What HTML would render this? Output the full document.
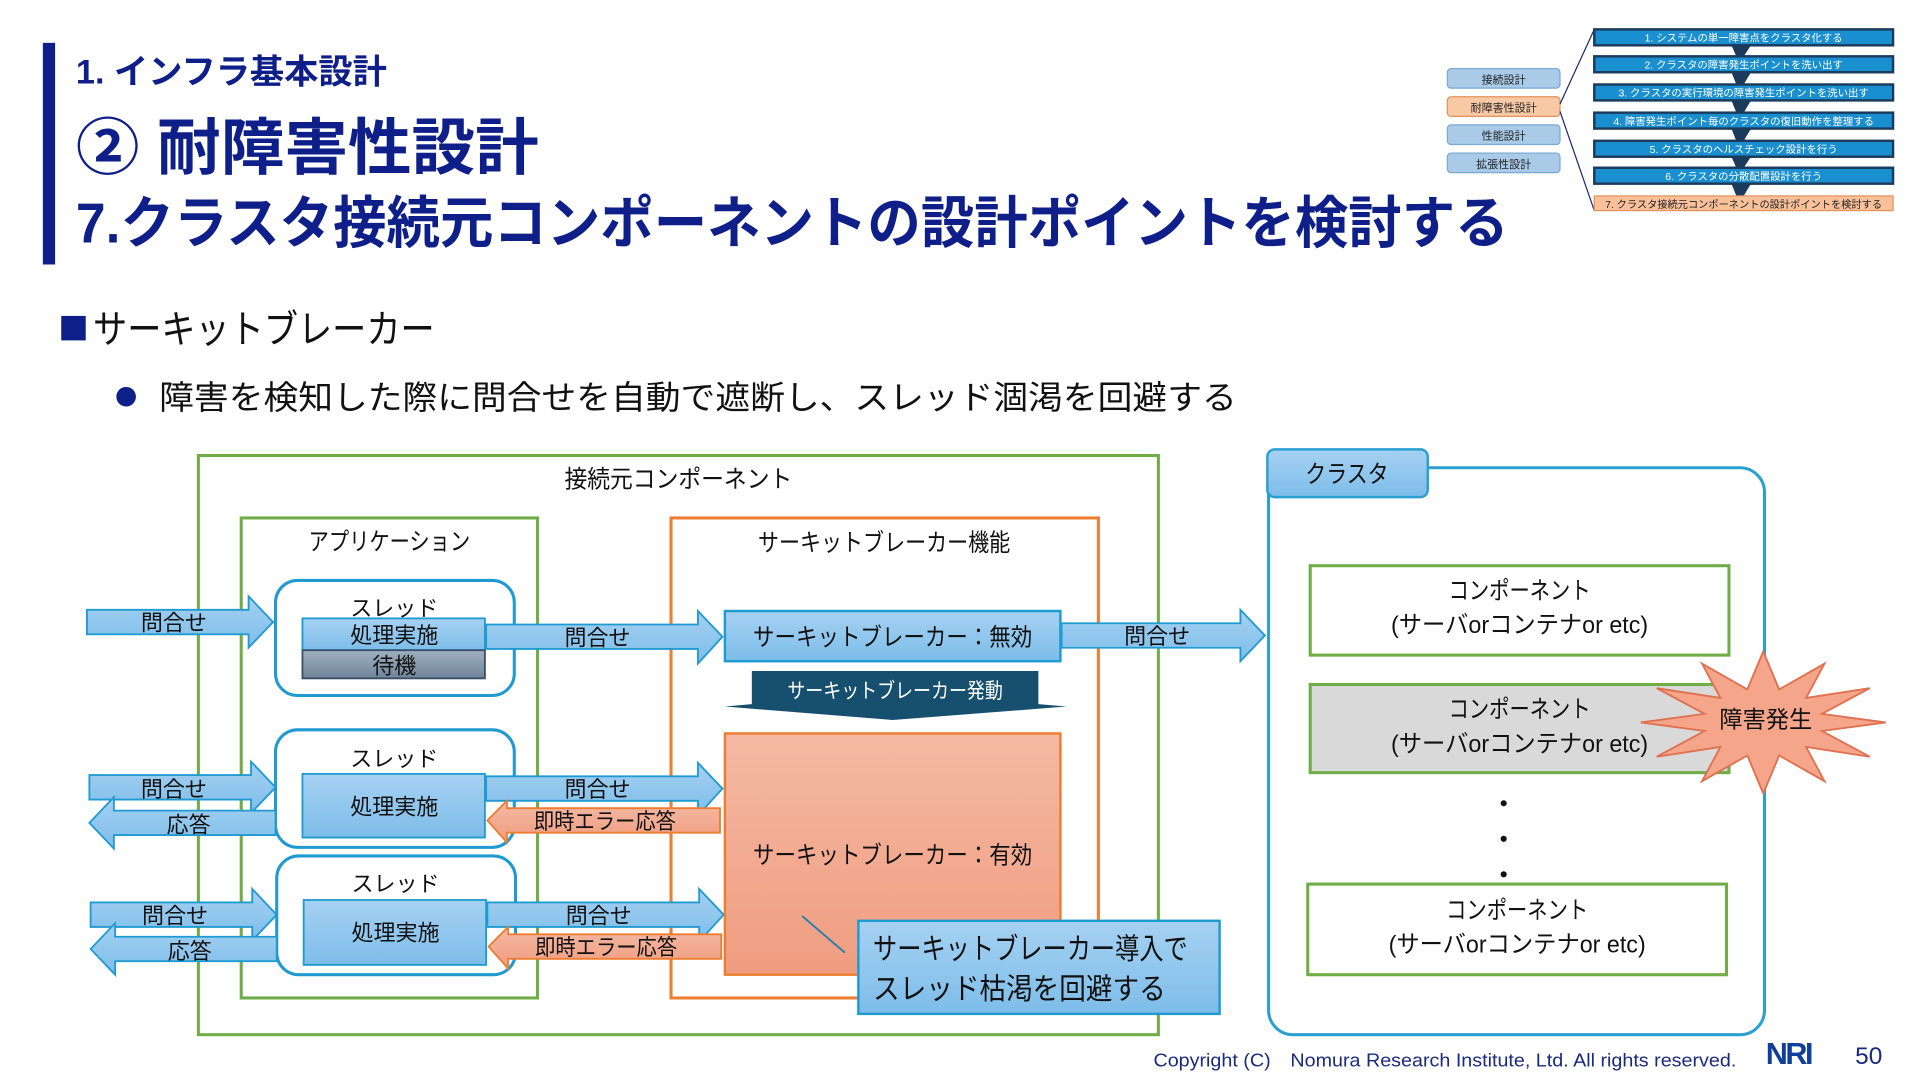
<!DOCTYPE html>
<html><head><meta charset="utf-8"><style>
html,body{margin:0;padding:0;background:#fff;}
svg{display:block;}
text{font-family:"Liberation Sans","Noto Sans CJK JP",sans-serif;}
</style></head><body>
<svg width="1920" height="1080" viewBox="0 0 1568 882" xmlns="http://www.w3.org/2000/svg">
<defs>
<linearGradient id="bl" x1="0" y1="0" x2="0" y2="1"><stop offset="0" stop-color="#a6d1f2"/><stop offset="1" stop-color="#7dbde9"/></linearGradient>
<linearGradient id="gr" x1="0" y1="0" x2="0" y2="1"><stop offset="0" stop-color="#9fb0c0"/><stop offset="1" stop-color="#70849a"/></linearGradient>
<linearGradient id="or" x1="0" y1="0" x2="0" y2="1"><stop offset="0" stop-color="#f4b9a3"/><stop offset="1" stop-color="#f09d80"/></linearGradient>
</defs>

<!-- header -->
<rect x="35" y="35" width="10" height="181" fill="#0f1f8a"/>
<text x="62" y="68" font-size="28" fill="#0f1f8a" font-weight="bold" textLength="254" lengthAdjust="spacingAndGlyphs">1. インフラ基本設計</text>
<text x="62" y="138" font-size="50" fill="#0f1f8a" font-weight="bold" textLength="378" lengthAdjust="spacingAndGlyphs">② 耐障害性設計</text>
<text x="62" y="198" font-size="46" fill="#0f1f8a" font-weight="bold" textLength="1170" lengthAdjust="spacingAndGlyphs">7.クラスタ接続元コンポーネントの設計ポイントを検討する</text>

<!-- mini nav -->
<g font-size="9" text-anchor="middle" fill="#222">
<rect x="1182" y="56" width="92" height="16" rx="3" fill="#a9cbe8" stroke="#7aa8d0"/><text x="1228" y="68">接続設計</text>
<rect x="1182" y="79" width="92" height="16" rx="3" fill="#f9c9a6" stroke="#e0935a"/><text x="1228" y="91">耐障害性設計</text>
<rect x="1182" y="102" width="92" height="16" rx="3" fill="#a9cbe8" stroke="#7aa8d0"/><text x="1228" y="114">性能設計</text>
<rect x="1182" y="125" width="92" height="16" rx="3" fill="#a9cbe8" stroke="#7aa8d0"/><text x="1228" y="137">拡張性設計</text>
</g>
<line x1="1274" y1="85" x2="1302" y2="24" stroke="#1a2a70" stroke-width="1"/>
<line x1="1274" y1="91" x2="1302" y2="172" stroke="#1a2a70" stroke-width="1"/>
<g font-size="8.5" text-anchor="middle" fill="#fff">
<g fill="#1b3a5c"><polygon points="1414,37 1430,37 1424,46 1418,46"/><polygon points="1414,59 1430,59 1424,69 1418,69"/><polygon points="1414,82 1430,82 1424,92 1418,92"/><polygon points="1414,105 1430,105 1424,115 1418,115"/><polygon points="1414,128 1430,128 1424,137 1418,137"/><polygon points="1414,150 1430,150 1424,160 1418,160"/></g>
<rect x="1302" y="24" width="244" height="13" fill="#1a8fcf" stroke="#1b3a5c" stroke-width="2"/><text x="1424" y="34">1. システムの単一障害点をクラスタ化する</text>
<rect x="1302" y="46" width="244" height="13" fill="#1a8fcf" stroke="#1b3a5c" stroke-width="2"/><text x="1424" y="56">2. クラスタの障害発生ポイントを洗い出す</text>
<rect x="1302" y="69" width="244" height="13" fill="#1a8fcf" stroke="#1b3a5c" stroke-width="2"/><text x="1424" y="79">3. クラスタの実行環境の障害発生ポイントを洗い出す</text>
<rect x="1302" y="92" width="244" height="13" fill="#1a8fcf" stroke="#1b3a5c" stroke-width="2"/><text x="1424" y="102">4. 障害発生ポイント毎のクラスタの復旧動作を整理する</text>
<rect x="1302" y="115" width="244" height="13" fill="#1a8fcf" stroke="#1b3a5c" stroke-width="2"/><text x="1424" y="125">5. クラスタのヘルスチェック設計を行う</text>
<rect x="1302" y="137" width="244" height="13" fill="#1a8fcf" stroke="#1b3a5c" stroke-width="2"/><text x="1424" y="147">6. クラスタの分散配置設計を行う</text>
<rect x="1302" y="160" width="244" height="12" fill="#f9c09a" stroke="#e0935a"/><text x="1424" y="170" fill="#222" textLength="226" lengthAdjust="spacingAndGlyphs">7. クラスタ接続元コンポーネントの設計ポイントを検討する</text>
</g>

<!-- bullets -->
<rect x="50" y="258" width="20" height="20" fill="#0f1f8a"/>
<text x="76" y="280" font-size="32" fill="#111" textLength="279" lengthAdjust="spacingAndGlyphs">サーキットブレーカー</text>
<circle cx="103" cy="324" r="8" fill="#0f1f8a"/>
<text x="130" y="334" font-size="27" fill="#111" textLength="880" lengthAdjust="spacingAndGlyphs">障害を検知した際に問合せを自動で遮断し、スレッド涸渇を回避する</text>

<!-- containers -->
<rect x="162" y="372" width="784" height="473" fill="none" stroke="#70ad47" stroke-width="2.5"/>
<text x="554" y="398" font-size="20" text-anchor="middle" fill="#111" textLength="186" lengthAdjust="spacingAndGlyphs">接続元コンポーネント</text>
<rect x="197" y="423" width="242" height="392" fill="none" stroke="#70ad47" stroke-width="2.5"/>
<text x="318" y="449" font-size="20" text-anchor="middle" fill="#111" textLength="132" lengthAdjust="spacingAndGlyphs">アプリケーション</text>
<rect x="548" y="423" width="349" height="392" fill="none" stroke="#ed7d31" stroke-width="2.5"/>
<text x="722" y="450" font-size="20" text-anchor="middle" fill="#111" textLength="206" lengthAdjust="spacingAndGlyphs">サーキットブレーカー機能</text>

<!-- threads -->
<g fill="#fff" stroke="#1f9bd1" stroke-width="2.5">
<rect x="225" y="474" width="195" height="94" rx="18"/>
<rect x="225" y="596" width="195" height="96" rx="18"/>
<rect x="226" y="699" width="195" height="97" rx="18"/>
</g>
<g font-size="18" text-anchor="middle" fill="#111">
<text x="322" y="503">スレッド</text><text x="322" y="626">スレッド</text><text x="323" y="728">スレッド</text>
</g>
<rect x="247" y="505" width="149" height="26" fill="url(#bl)" stroke="#1f9bd1" stroke-width="1.5"/>
<rect x="247" y="531" width="149" height="23" fill="url(#gr)" stroke="#3a5068" stroke-width="1.5"/>
<rect x="247" y="632" width="149" height="52" fill="url(#bl)" stroke="#1f9bd1" stroke-width="1.5"/>
<rect x="248" y="735" width="149" height="53" fill="url(#bl)" stroke="#1f9bd1" stroke-width="1.5"/>
<g font-size="18" text-anchor="middle" fill="#111">
<text x="322" y="525">処理実施</text><text x="322" y="550">待機</text>
<text x="322" y="665">処理実施</text><text x="323" y="768">処理実施</text>
</g>

<!-- blue arrows -->
<g fill="url(#bl)" stroke="#1f9bd1" stroke-width="1.5">
<polygon points="71,498 203,498 203,487 223,508 203,529 203,518 71,518"/>
<polygon points="397,510 570,510 570,499 590,520 570,542 570,530 397,530"/>
<polygon points="867,509 1013,509 1013,498 1033,519 1013,540 1013,529 867,529"/>
<polygon points="73,633 205,633 205,622 225,643 205,664 205,653 73,653"/>
<polygon points="225,662 93,662 93,651 73,672 93,693 93,682 225,682"/>
<polygon points="397,634 570,634 570,623 590,644 570,666 570,654 397,654"/>
<polygon points="74,737 206,737 206,726 226,747 206,768 206,757 74,757"/>
<polygon points="226,765 94,765 94,754 74,775 94,796 94,785 226,785"/>
<polygon points="398,737 571,737 571,726 591,747 571,769 571,757 398,757"/>
</g>
<g fill="url(#or)" stroke="#ed7d31" stroke-width="1.5">
<polygon points="588,660 414,660 414,654 398,670 414,688 414,680 588,680"/>
<polygon points="589,763 415,763 415,757 399,773 415,791 415,783 589,783"/>
</g>
<g font-size="18" text-anchor="middle" fill="#111">
<text x="142" y="515">問合せ</text><text x="488" y="527">問合せ</text><text x="945" y="526">問合せ</text>
<text x="142" y="651">問合せ</text><text x="154" y="680">応答</text><text x="488" y="651">問合せ</text><text x="494" y="677" textLength="116" lengthAdjust="spacingAndGlyphs">即時エラー応答</text>
<text x="143" y="754">問合せ</text><text x="155" y="783">応答</text><text x="489" y="754">問合せ</text><text x="495" y="780" textLength="116" lengthAdjust="spacingAndGlyphs">即時エラー応答</text>
</g>

<!-- CB states -->
<rect x="592" y="499" width="274" height="41" fill="url(#bl)" stroke="#1f9bd1" stroke-width="2"/>
<text x="729" y="527" font-size="20" text-anchor="middle" fill="#111" textLength="228" lengthAdjust="spacingAndGlyphs">サーキットブレーカー：無効</text>
<polygon points="614,548 848,548 848,575 871,577 729,588 592,577 614,575" fill="#17506e"/>
<text x="731" y="570" font-size="17" text-anchor="middle" fill="#fff" textLength="176" lengthAdjust="spacingAndGlyphs">サーキットブレーカー発動</text>
<rect x="592" y="599" width="274" height="197" fill="url(#or)" stroke="#ed7d31" stroke-width="2"/>
<text x="729" y="705" font-size="20" text-anchor="middle" fill="#111" textLength="228" lengthAdjust="spacingAndGlyphs">サーキットブレーカー：有効</text>
<line x1="655" y1="748" x2="690" y2="778" stroke="#1f7fb0" stroke-width="1.5"/>
<rect x="701" y="752" width="295" height="76" fill="url(#bl)" stroke="#1f9bd1" stroke-width="2"/>
<text x="713" y="783" font-size="24" fill="#111" textLength="257" lengthAdjust="spacingAndGlyphs">サーキットブレーカー導入で</text>
<text x="713" y="816" font-size="24" fill="#111" textLength="239" lengthAdjust="spacingAndGlyphs">スレッド枯渇を回避する</text>

<!-- cluster -->
<rect x="1036" y="382" width="405" height="463" rx="20" fill="none" stroke="#2aa0d0" stroke-width="2.5"/>
<rect x="1035" y="367" width="131" height="39" rx="6" fill="url(#bl)" stroke="#2aa0d0" stroke-width="2"/>
<text x="1100" y="394" font-size="20" text-anchor="middle" fill="#111" textLength="68" lengthAdjust="spacingAndGlyphs">クラスタ</text>
<rect x="1070" y="462" width="342" height="73" fill="#fff" stroke="#70ad47" stroke-width="2.5"/>
<rect x="1070" y="559" width="342" height="72" fill="#d9d9d9" stroke="#70ad47" stroke-width="2.5"/>
<rect x="1068" y="722" width="342" height="74" fill="#fff" stroke="#70ad47" stroke-width="2.5"/>
<g font-size="20" text-anchor="middle" fill="#111">
<text x="1241" y="489" textLength="116" lengthAdjust="spacingAndGlyphs">コンポーネント</text><text x="1241" y="517" textLength="210" lengthAdjust="spacingAndGlyphs">(サーバorコンテナor etc)</text>
<text x="1241" y="586" textLength="116" lengthAdjust="spacingAndGlyphs">コンポーネント</text><text x="1241" y="614" textLength="210" lengthAdjust="spacingAndGlyphs">(サーバorコンテナor etc)</text>
<text x="1239" y="750" textLength="116" lengthAdjust="spacingAndGlyphs">コンポーネント</text><text x="1239" y="778" textLength="210" lengthAdjust="spacingAndGlyphs">(サーバorコンテナor etc)</text>
</g>
<circle cx="1228" cy="656" r="2.5" fill="#111"/><circle cx="1228" cy="685" r="2.5" fill="#111"/><circle cx="1228" cy="714" r="2.5" fill="#111"/>
<polygon points="1540,590 1488,583 1527,562 1475,570 1490,542 1453,563 1440,532 1427,563 1390,542 1405,570 1353,562 1392,583 1340,590 1392,597 1353,618 1405,610 1390,638 1427,617 1440,648 1453,617 1490,638 1475,610 1527,618 1488,597" fill="#f4a58a" stroke="#e07050" stroke-width="1.5"/>
<text x="1442" y="594" font-size="19" text-anchor="middle" fill="#111">障害発生</text>

<!-- footer -->
<text x="1418" y="871" font-size="15" text-anchor="end" fill="#1a2a80" textLength="476" lengthAdjust="spacingAndGlyphs">Copyright (C)　Nomura Research Institute, Ltd. All rights reserved.</text>
<text x="1442" y="869" font-size="25" font-weight="bold" fill="#0f3f9a" letter-spacing="-2">NRI</text>
<text x="1515" y="869" font-size="20" fill="#1a2a80">50</text>
</svg>
</body></html>
